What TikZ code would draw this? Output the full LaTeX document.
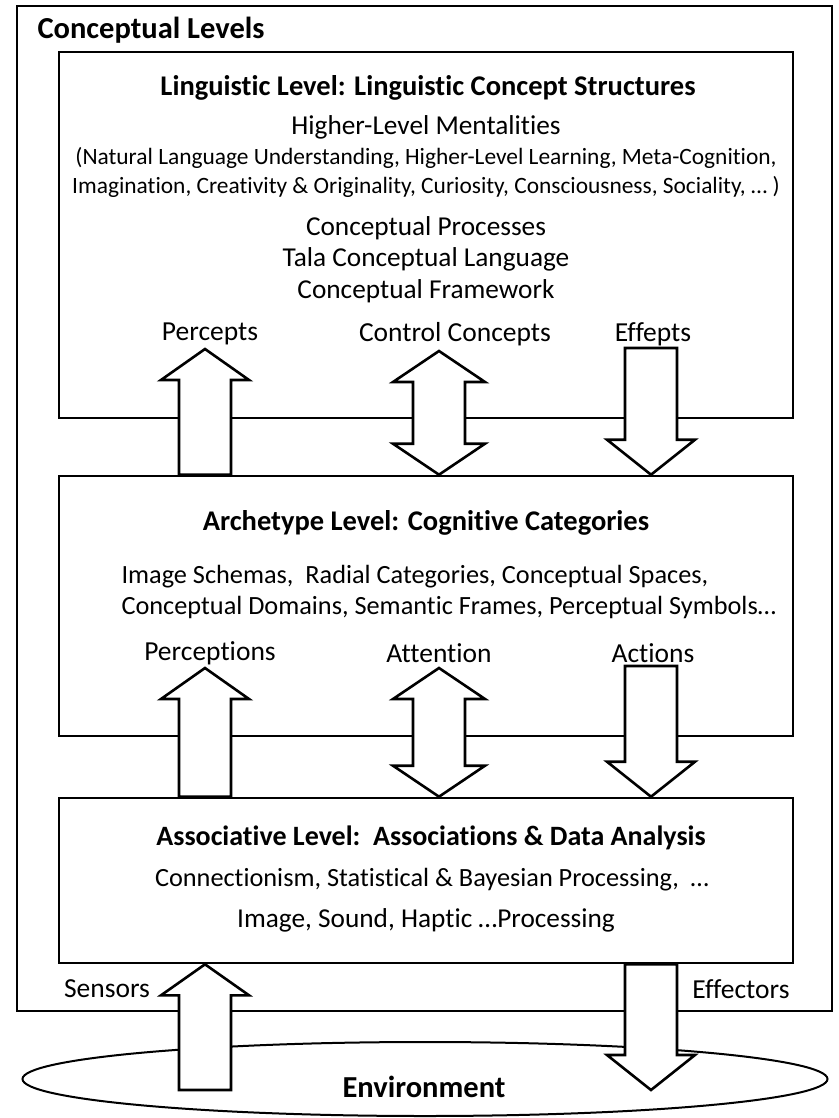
\documentclass[tikz,border=0pt]{standalone}
\usepackage{fontspec}
\setmainfont{Carlito}[Ligatures=NoCommon]
\usepackage{tikz}
\usetikzlibrary{calc,shapes.geometric}

% block arrows: #1 = tail, #2 = tip
\newcommand{\blkup}[2]{%
  \draw[blockarrow] let \p1=(#1), \p2=(#2) in
    (\x1-26pt,\y1) -- (\x1-26pt,\y2-31pt) -- (\x1-44pt,\y2-31pt) -- (\x1,\y2)
    -- (\x1+44pt,\y2-31pt) -- (\x1+26pt,\y2-31pt) -- (\x1+26pt,\y1) -- cycle;}
\newcommand{\blkdown}[2]{%
  \draw[blockarrow] let \p1=(#1), \p2=(#2) in
    (\x1-26pt,\y1) -- (\x1-26pt,\y2+35pt) -- (\x1-44pt,\y2+35pt) -- (\x1,\y2)
    -- (\x1+44pt,\y2+35pt) -- (\x1+26pt,\y2+35pt) -- (\x1+26pt,\y1) -- cycle;}
% double arrow: #1 = upper tip, #2 = lower tip
\newcommand{\blkboth}[2]{%
  \draw[blockarrow] let \p1=(#1), \p2=(#2) in
    (\x1,\y1) -- (\x1+46pt,\y1-31pt) -- (\x1+26pt,\y1-31pt) -- (\x1+26pt,\y2+31pt)
    -- (\x1+46pt,\y2+31pt) -- (\x1,\y2) -- (\x1-46pt,\y2+31pt) -- (\x1-26pt,\y2+31pt)
    -- (\x1-26pt,\y1-31pt) -- (\x1-46pt,\y1-31pt) -- cycle;}

\tikzset{
  levelbox/.style={draw, line width=2.6pt, inner sep=0pt},
  blockarrow/.style={draw, fill=white, line width=2.6pt, line join=miter},
  heading/.style={font=\fontsize{28.5}{32}\selectfont\bfseries},
  bodytext/.style={font=\fontsize{27.3}{31}\selectfont},
  detail/.style={font=\fontsize{23.4}{27}\selectfont},
  flowlabel/.style={font=\fontsize{27.5}{31}\selectfont}
}

\begin{document}
\begin{tikzpicture}[x=1pt,y=-1pt]
  \useasboundingbox (0,0) rectangle (838,1118);
  % Frame and level boxes
  \node[levelbox, minimum width=815pt, minimum height=1005pt] (levels) at (424.5,508.5) {};
  \node[font=\fontsize{30.5}{34}\selectfont\bfseries, anchor=west] (levelstitle) at (34,30) {Conceptual Levels};
  \node[levelbox, minimum width=734pt, minimum height=366pt] (linguistic) at (426,235) {};
  \node[levelbox, minimum width=734pt, minimum height=260pt] (archetype) at (426,606) {};
  \node[levelbox, minimum width=734pt, minimum height=165pt] (associative) at (426,880.5) {};
  % Linguistic level
  \node[heading] (lingtitle) at (428,88) {Linguistic Level: Linguistic Concept Structures};
  \node[bodytext] (mentalities) at (426,127) {Higher-Level Mentalities};
  \node[detail] (mentA) at (426,158) {(Natural Language Understanding, Higher-Level Learning, Meta-Cognition,};
  \node[detail] (mentB) at (426,187) {Imagination, Creativity \& Originality, Curiosity, Consciousness, Sociality, … )};
  \node[bodytext] (processes) at (426,228) {Conceptual Processes};
  \node[bodytext] (tala) at (426,259) {Tala Conceptual Language};
  \node[bodytext] (framework) at (426,291) {Conceptual Framework};
  % Archetype level
  \node[heading] (archtitle) at (426,523) {Archetype Level: Cognitive Categories};
  \node[bodytext, font=\fontsize{26.3}{30}\selectfont, anchor=west] (schemasA) at (118,577) {Image Schemas,\ \ Radial Categories, Conceptual Spaces,};
  \node[bodytext, font=\fontsize{26.3}{30}\selectfont, anchor=west] (schemasB) at (118,607) {Conceptual Domains, Semantic Frames, Perceptual Symbols…};
  % Associative level
  \node[heading, font=\fontsize{28}{32}\selectfont\bfseries] (assoctitle) at (431,838) {Associative Level:\ \ Associations \& Data Analysis};
  \node[bodytext, font=\fontsize{26.3}{30}\selectfont] (connect) at (432,880) {Connectionism, Statistical \& Bayesian Processing,\ \ …};
  \node[bodytext] (imaging) at (426,920) {Image, Sound, Haptic …Processing};
  % Environment
  \node[ellipse, draw, line width=2pt, inner sep=0pt,
        minimum width=805pt, minimum height=74pt] (env) at (425,1079) {};
  \node[font=\fontsize{30.5}{34}\selectfont\bfseries] (envlabel) at (424,1087) {Environment};
  % Arrow labels
  \node[flowlabel] (percepts) at (210,334) {Percepts};
  \node[flowlabel] (control) at (455,334) {Control Concepts};
  \node[flowlabel] (effepts) at (653,334) {Effepts};
  \node[flowlabel] (perceptions) at (210,653) {Perceptions};
  \node[flowlabel] (attention) at (439,653) {Attention};
  \node[flowlabel] (actions) at (653,653) {Actions};
  \node[flowlabel] (sensors) at (107,989) {Sensors};
  \node[flowlabel] (effectors) at (741,989) {Effectors};
  % Arrow ends
  \coordinate (perceptsTip) at (205,349);
  \coordinate (controlTip) at (439,351);
  \coordinate (effeptsTail) at (651,348);
  \coordinate (perceptionsTip) at (205,668);
  \coordinate (attentionTip) at (439,668);
  \coordinate (actionsTail) at (651,666);
  \coordinate (sensorsTail) at (205,1090);
  \coordinate (effectorsTip) at (651,1090);
  % Arrows
  \blkup{perceptsTip |- archetype.north}{perceptsTip}
  \blkboth{controlTip}{controlTip |- archetype.north}
  \blkdown{effeptsTail}{effeptsTail |- archetype.north}
  \blkup{perceptionsTip |- associative.north}{perceptionsTip}
  \blkboth{attentionTip}{attentionTip |- associative.north}
  \blkdown{actionsTail}{actionsTail |- associative.north}
  \blkup{sensorsTail}{sensorsTail |- associative.south}
  \blkdown{effectorsTip |- associative.south}{effectorsTip}
\end{tikzpicture}
\end{document}
